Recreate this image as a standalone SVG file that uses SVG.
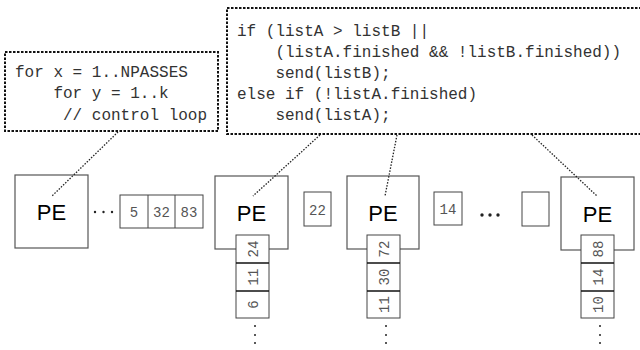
<svg xmlns="http://www.w3.org/2000/svg" width="640" height="350" viewBox="0 0 640 350">
<style>
.code{font-family:"Liberation Mono","Courier New",monospace;font-size:16px;fill:#333;white-space:pre}
.cbox{fill:none;stroke:#111;stroke-width:2;stroke-dasharray:2.5 1.5}
.pe{fill:#fff;stroke:#555;stroke-width:1.2}
.pet{font-family:"Liberation Sans",Arial,sans-serif;font-size:22px;fill:#000;text-anchor:middle}
.cell{fill:#fff;stroke:#444;stroke-width:1}
.ct{font-family:"Liberation Mono","Courier New",monospace;font-size:14px;fill:#555;text-anchor:middle}
.div{stroke:#111;stroke-width:1.5}
.conn{fill:none;stroke:#222;stroke-width:1.3;stroke-dasharray:1.5 1.5}
.dot{fill:#222}
</style>
<g id="code-left">
<rect class="cbox" x="5" y="52" width="213" height="79"/>
<text class="code" x="15" y="77">for x = 1..NPASSES</text>
<text class="code" x="15" y="98">    for y = 1..k</text>
<text class="code" x="15" y="120">     // control loop</text>
</g>
<g id="code-right">
<rect class="cbox" x="227" y="8" width="416" height="126"/>
<text class="code" x="237" y="36">if (listA &gt; listB ||</text>
<text class="code" x="237" y="57">    (listA.finished &amp;&amp; !listB.finished))</text>
<text class="code" x="237" y="78">    send(listB);</text>
<text class="code" x="237" y="99">else if (!listA.finished)</text>
<text class="code" x="237" y="120">    send(listA);</text>
</g>
<g id="pe1">
<rect class="pe" x="15" y="175" width="73" height="73"/>
<text class="pet" x="51.5" y="220">PE</text>
</g>
<g id="queue1">
<circle class="dot" cx="95" cy="212" r="1.2"/>
<circle class="dot" cx="103.5" cy="212" r="1.2"/>
<circle class="dot" cx="112" cy="212" r="1.2"/>
<rect class="cell" x="120" y="195" width="83" height="33"/>
<line x1="148" y1="195" x2="148" y2="228" stroke="#444"/>
<line x1="175" y1="195" x2="175" y2="228" stroke="#444"/>
<text class="ct" x="134" y="217">5</text>
<text class="ct" x="161.5" y="217">32</text>
<text class="ct" x="189" y="217">83</text>
</g>
<g id="pe2">
<rect class="pe" x="215" y="176" width="73" height="73"/>
<text class="pet" x="251.5" y="221">PE</text>
<rect class="cell" x="236" y="235" width="33" height="83"/>
<line class="div" x1="236" y1="263" x2="269" y2="263"/>
<line class="div" x1="236" y1="291" x2="269" y2="291"/>
<text class="ct" transform="translate(252.5 249) rotate(-90)" y="5">24</text>
<text class="ct" transform="translate(252.5 277) rotate(-90)" y="5">11</text>
<text class="ct" transform="translate(252.5 304.5) rotate(-90)" y="5">6</text>
<circle class="dot" cx="255" cy="326" r="1"/>
<circle class="dot" cx="255" cy="335" r="1"/>
<circle class="dot" cx="255" cy="343" r="1"/>
</g>
<g id="msg22">
<rect class="cell" x="304" y="192" width="27" height="34"/>
<text class="ct" x="317.5" y="215">22</text>
</g>
<g id="pe3">
<rect class="pe" x="347" y="176" width="72" height="73"/>
<text class="pet" x="383" y="221">PE</text>
<rect class="cell" x="367" y="235" width="33" height="83"/>
<line class="div" x1="367" y1="263" x2="400" y2="263"/>
<line class="div" x1="367" y1="291" x2="400" y2="291"/>
<text class="ct" transform="translate(383.5 249) rotate(-90)" y="5">72</text>
<text class="ct" transform="translate(383.5 277) rotate(-90)" y="5">30</text>
<text class="ct" transform="translate(383.5 304.5) rotate(-90)" y="5">11</text>
<circle class="dot" cx="386" cy="326" r="1"/>
<circle class="dot" cx="386" cy="335" r="1"/>
<circle class="dot" cx="386" cy="343" r="1"/>
</g>
<g id="msg14">
<rect class="cell" x="434" y="192" width="28" height="33"/>
<text class="ct" x="448" y="214">14</text>
</g>
<g id="ellipsis">
<circle class="dot" cx="482" cy="215" r="1.7"/>
<circle class="dot" cx="490" cy="215" r="1.7"/>
<circle class="dot" cx="498" cy="215" r="1.7"/>
</g>
<g id="msg-empty">
<rect class="cell" x="522" y="192" width="27" height="34"/>
</g>
<g id="pe4">
<rect class="pe" x="561" y="177" width="73" height="73"/>
<text class="pet" x="597.5" y="222">PE</text>
<rect class="cell" x="581" y="235" width="33" height="83"/>
<line class="div" x1="581" y1="263" x2="614" y2="263"/>
<line class="div" x1="581" y1="291" x2="614" y2="291"/>
<text class="ct" transform="translate(597.5 249) rotate(-90)" y="5">88</text>
<text class="ct" transform="translate(597.5 277) rotate(-90)" y="5">14</text>
<text class="ct" transform="translate(597.5 304.5) rotate(-90)" y="5">10</text>
<circle class="dot" cx="600" cy="326" r="1"/>
<circle class="dot" cx="600" cy="335" r="1"/>
<circle class="dot" cx="600" cy="343" r="1"/>
</g>
<g id="connectors">
<line class="conn" x1="118" y1="132" x2="52" y2="196"/>
<line class="conn" x1="320" y1="135" x2="253" y2="196"/>
<line class="conn" x1="397" y1="135" x2="385" y2="196"/>
<line class="conn" x1="532" y1="135" x2="597" y2="196"/>
</g>
</svg>
